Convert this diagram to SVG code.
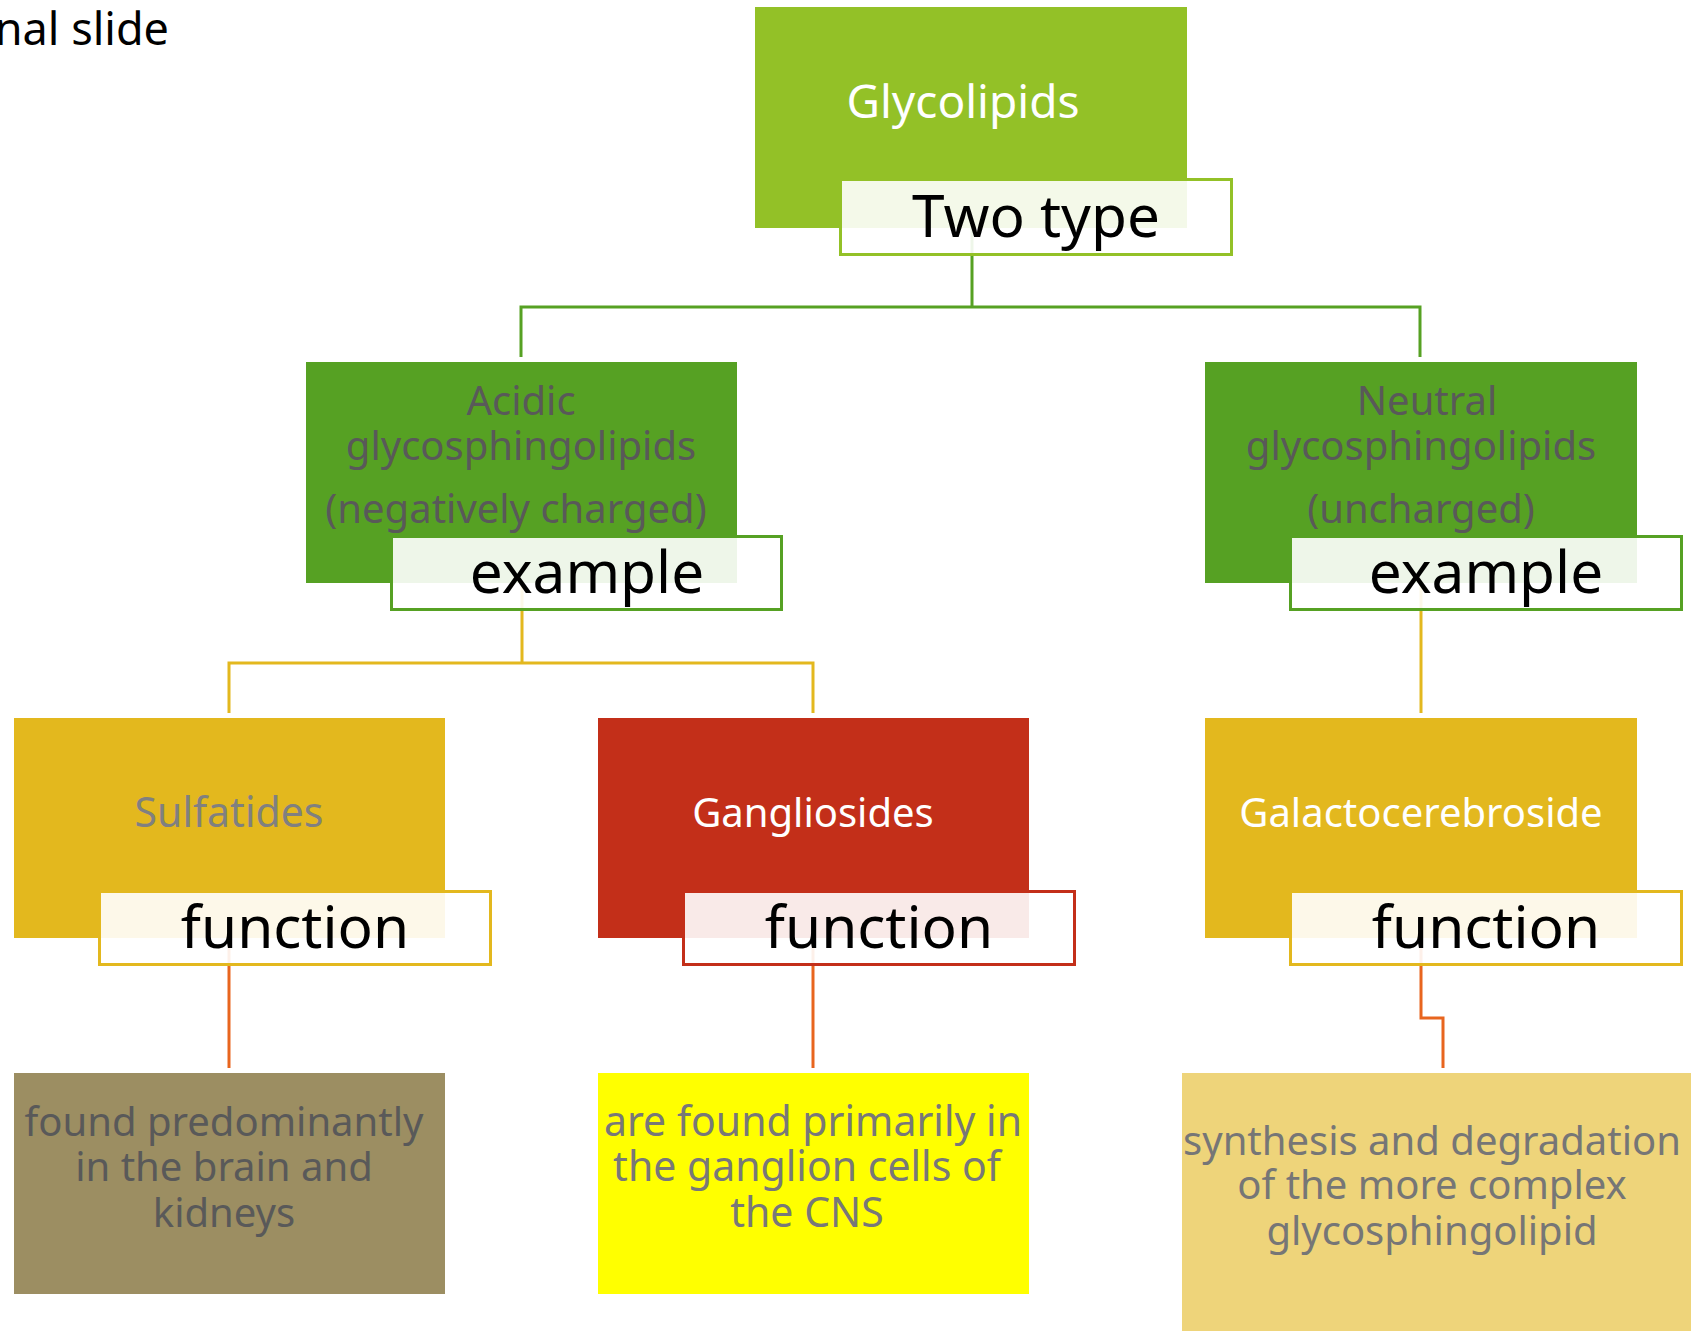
<svg xmlns="http://www.w3.org/2000/svg" width="1691" height="1331" viewBox="0 0 1691 1331">
  <style>
    text { font-family: "Noto Sans", "Open Sans", "DejaVu Sans", sans-serif; text-anchor: middle; }
    .lbl { fill: #ffffff; fill-opacity: 0.9; stroke-width: 3; }
    .lbltxt { font-size: 58.5px; fill: #000000; }
    .main { font-size: 40px; }
    .desc { font-size: 40px; }
    .conn { fill: none; stroke-width: 3; }
  </style>
  <rect x="0" y="0" width="1691" height="1331" fill="#ffffff"/>
  <text x="169" y="45" style="font-size:45px;text-anchor:end;fill:#000000">nal slide</text>

  <g id="connectors">
    <path class="conn" stroke="#56a123" d="M972 228 V307 M521 357 V307 H1420 V357"/>
    <path class="conn" stroke="#e3b81e" d="M522 583 V663 M229 713 V663 H813 V713"/>
    <path class="conn" stroke="#e3b81e" d="M1421 583 V713"/>
    <path class="conn" stroke="#e8651e" d="M229 938 V1068"/>
    <path class="conn" stroke="#e8651e" d="M813 938 V1068"/>
    <path class="conn" stroke="#e8651e" d="M1421 938 V1018 H1443 V1068"/>
  </g>

  <g id="glycolipids">
    <rect x="755" y="7" width="432" height="221" fill="#93c127"/>
    <text x="963" y="118" style="font-size:46px" fill="#ffffff">Glycolipids</text>
    <rect x="840.5" y="179.5" width="391" height="75" class="lbl" stroke="#93c127"/>
    <text x="1036" y="237" class="lbltxt">Two type</text>
  </g>

  <g id="acidic">
    <rect x="306" y="362" width="431" height="221" fill="#56a123"/>
    <text x="521" y="415" class="main" fill="#595959">Acidic</text>
    <text x="521" y="460" class="main" fill="#595959">glycosphingolipids</text>
    <text x="516" y="523" class="main" fill="#595959">(negatively charged)</text>
    <rect x="391.5" y="536.5" width="390" height="73" class="lbl" stroke="#56a123"/>
    <text x="587" y="593" class="lbltxt">example</text>
  </g>

  <g id="neutral">
    <rect x="1205" y="362" width="432" height="221" fill="#56a123"/>
    <text x="1427" y="415" class="main" fill="#595959">Neutral</text>
    <text x="1421" y="460" class="main" fill="#595959">glycosphingolipids</text>
    <text x="1421" y="523" class="main" fill="#595959">(uncharged)</text>
    <rect x="1290.5" y="536.5" width="391" height="73" class="lbl" stroke="#56a123"/>
    <text x="1486" y="593" class="lbltxt">example</text>
  </g>

  <g id="sulfatides">
    <rect x="14" y="718" width="431" height="220" fill="#e3b81e"/>
    <text x="229" y="827" style="font-size:41px" fill="#808080">Sulfatides</text>
    <rect x="99.5" y="891.5" width="391" height="73" class="lbl" stroke="#e3b81e"/>
    <text x="295" y="948" class="lbltxt">function</text>
  </g>

  <g id="gangliosides">
    <rect x="598" y="718" width="431" height="220" fill="#c32f19"/>
    <text x="813" y="827" class="main" fill="#ffffff">Gangliosides</text>
    <rect x="683.5" y="891.5" width="391" height="73" class="lbl" stroke="#c32f19"/>
    <text x="879" y="948" class="lbltxt">function</text>
  </g>

  <g id="galactocerebroside">
    <rect x="1205" y="718" width="432" height="220" fill="#e3b81e"/>
    <text x="1421" y="827" class="main" fill="#ffffff">Galactocerebroside</text>
    <rect x="1290.5" y="891.5" width="391" height="73" class="lbl" stroke="#e3b81e"/>
    <text x="1486" y="948" class="lbltxt">function</text>
  </g>

  <g id="sulfatides-function">
    <rect x="14" y="1073" width="431" height="221" fill="#9c8e62"/>
    <text x="224" y="1136" class="desc" fill="#595959">found predominantly</text>
    <text x="224" y="1181" class="desc" fill="#595959">in the brain and</text>
    <text x="224" y="1227" class="desc" fill="#595959">kidneys</text>
  </g>

  <g id="gangliosides-function">
    <rect x="598" y="1073" width="431" height="221" fill="#ffff00"/>
    <text x="813" y="1136" style="font-size:41px" fill="#787878">are found primarily in</text>
    <text x="807" y="1181" style="font-size:41px" fill="#787878">the ganglion cells of</text>
    <text x="807" y="1227" style="font-size:41px" fill="#787878">the CNS</text>
  </g>

  <g id="galactocerebroside-function">
    <rect x="1182" y="1073" width="509" height="258" fill="#eed47a"/>
    <text x="1432" y="1155" class="desc" fill="#767676">synthesis and degradation</text>
    <text x="1432" y="1199" class="desc" fill="#767676">of the more complex</text>
    <text x="1432" y="1245" class="desc" fill="#767676">glycosphingolipid</text>
  </g>
</svg>
